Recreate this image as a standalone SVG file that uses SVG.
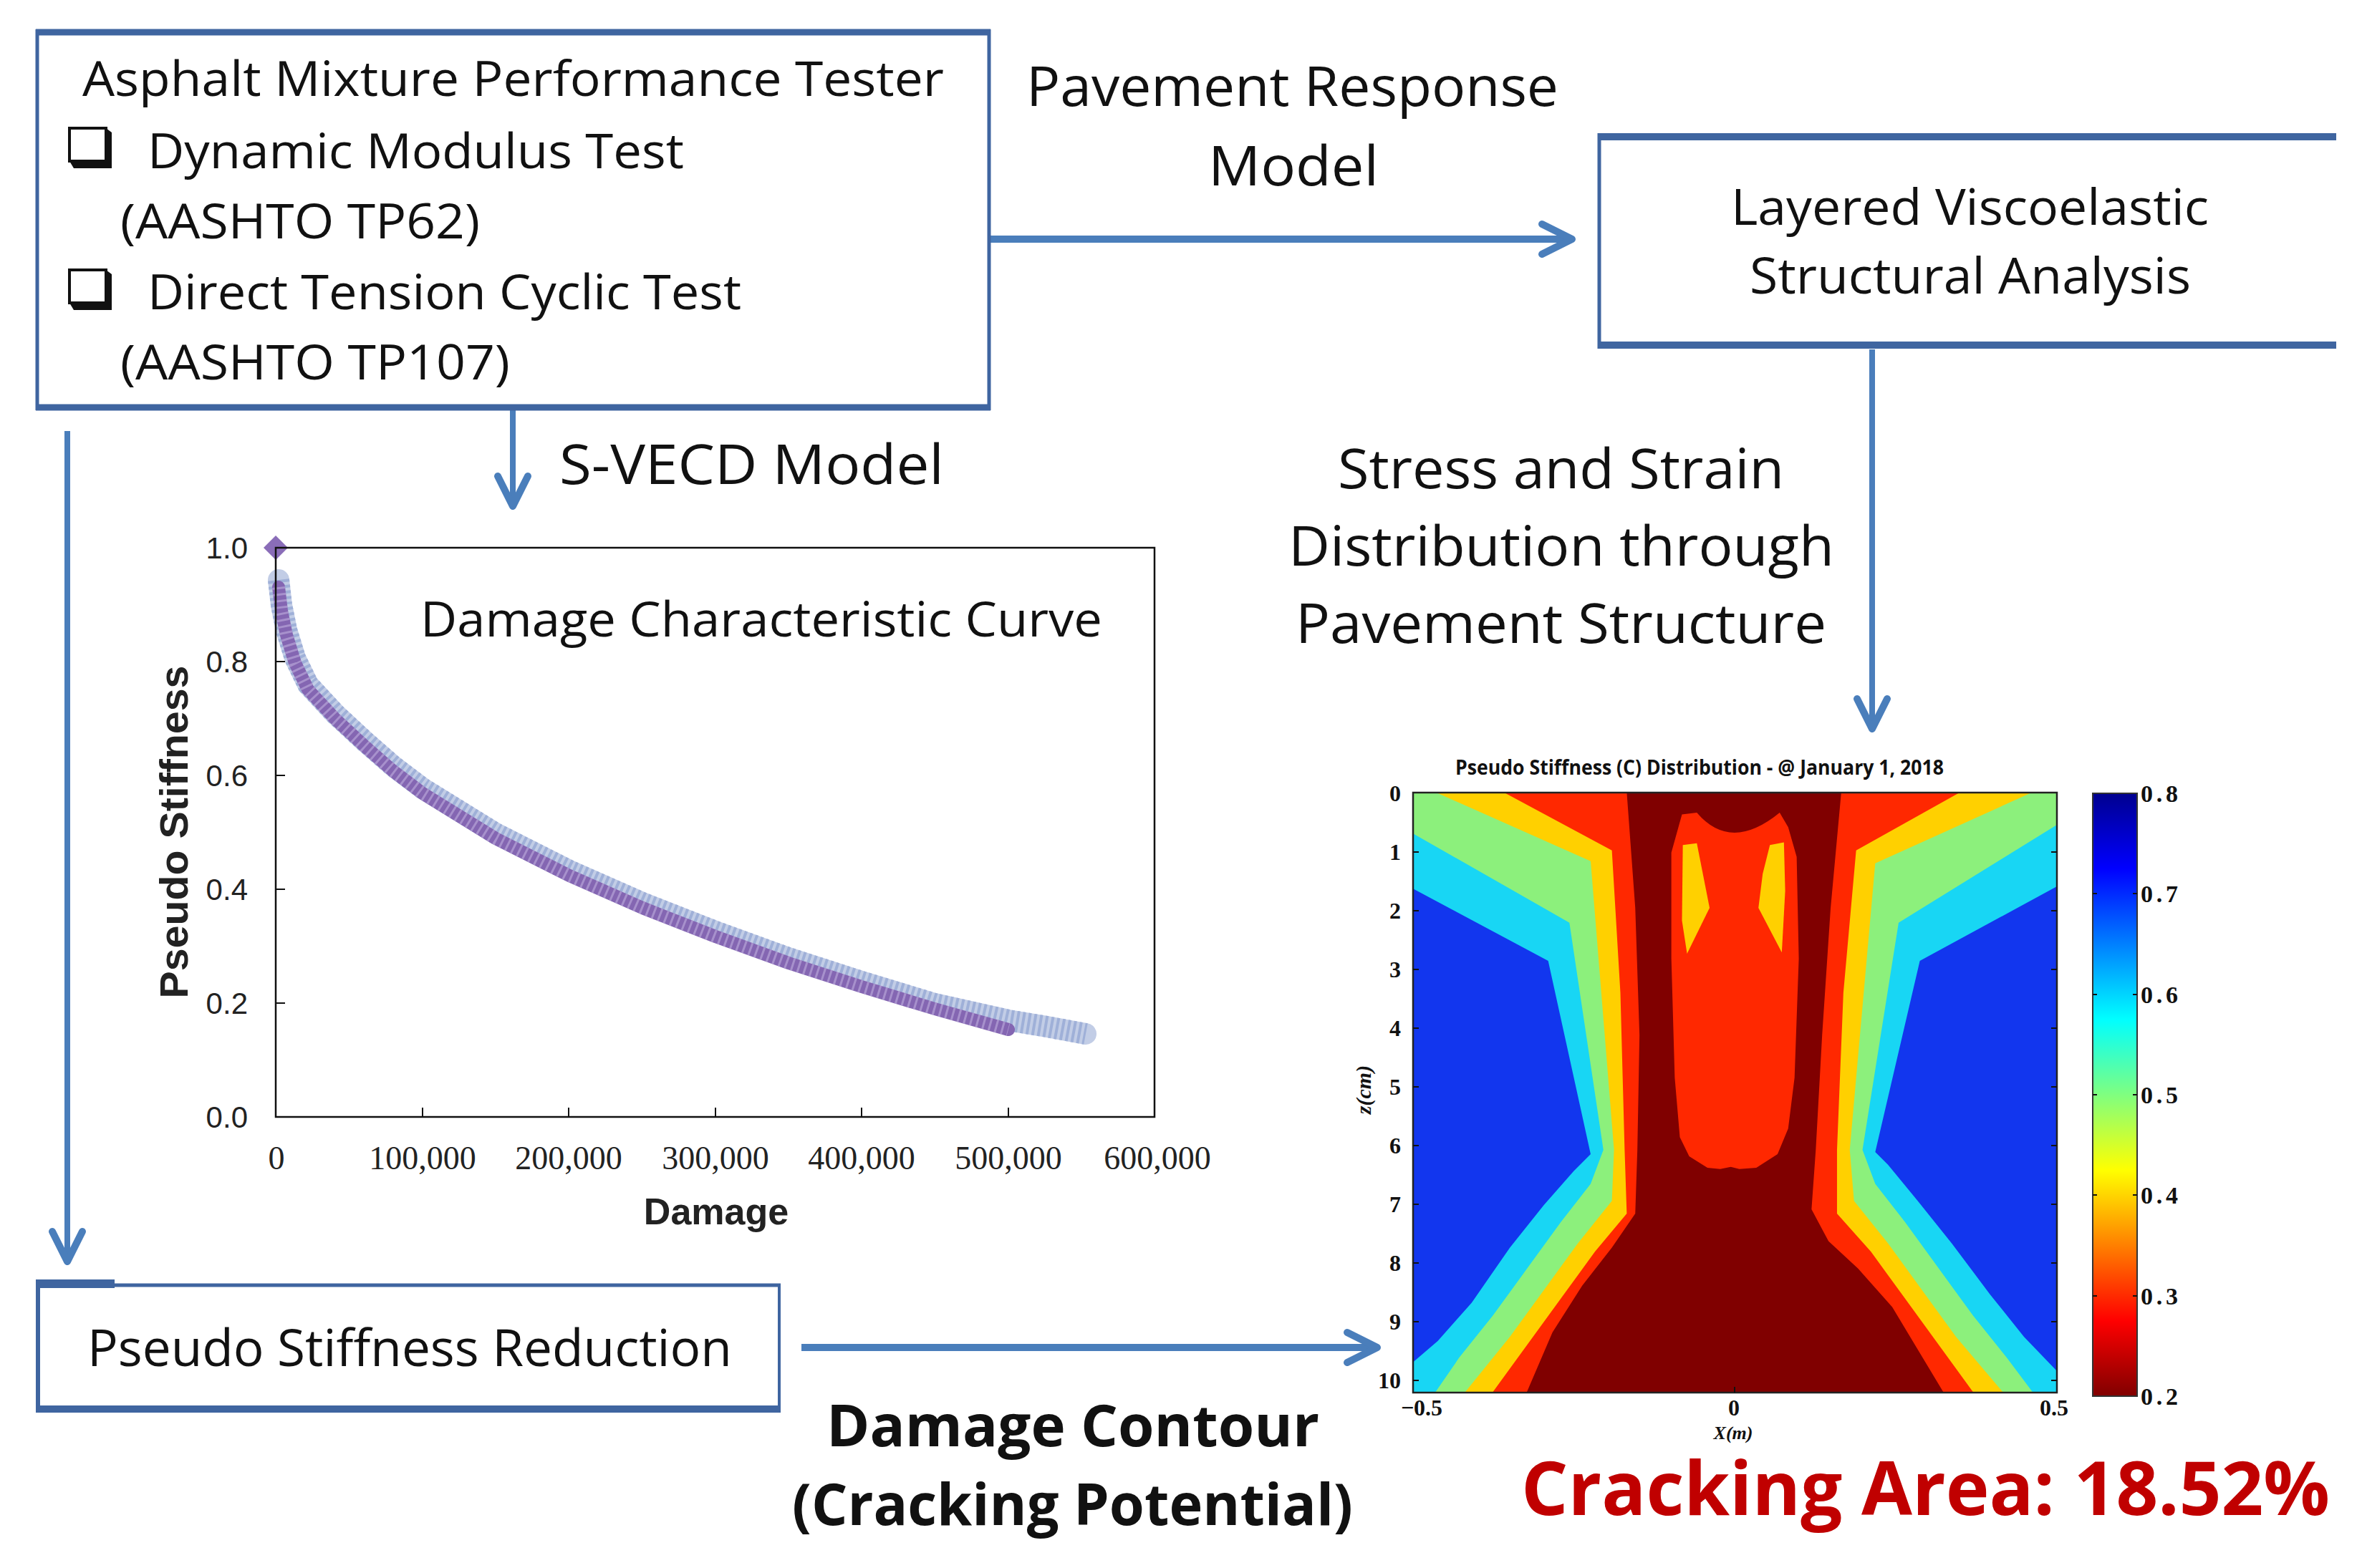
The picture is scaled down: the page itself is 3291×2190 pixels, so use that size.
<svg xmlns="http://www.w3.org/2000/svg" width="3291" height="2190" viewBox="0 0 3291 2190">
<style>
.t{font-family:"Open Sans","Liberation Sans",sans-serif;fill:#111}
.tb{font-family:"Open Sans","Liberation Sans",sans-serif;font-weight:bold;fill:#111}
.bx{stroke:#3F65A0;fill:none}
.cn{stroke:#4A7EBB;fill:none}
.ax{font-family:"Liberation Sans",Arial,sans-serif;fill:#222}
.axs{font-family:"Liberation Serif","Times New Roman",serif;fill:#222}
.cb{font-family:"Liberation Serif","Times New Roman",serif;font-weight:bold;fill:#111}
.tk{stroke:#111;stroke-width:2}
</style>
<defs>
<marker id="chev" markerUnits="userSpaceOnUse" viewBox="-50 -28 60 56" refX="-4" refY="0" markerWidth="60" markerHeight="56" orient="auto" overflow="visible">
<path d="M-42,-21 L0,0 L-42,21" fill="none" stroke="#4A7EBB" stroke-width="10" stroke-linecap="round" stroke-linejoin="round"/>
</marker>
<linearGradient id="jet" x1="0" y1="0" x2="0" y2="1">
<stop offset="0" stop-color="#00008F"/>
<stop offset="0.125" stop-color="#0000FF"/>
<stop offset="0.375" stop-color="#00FFFF"/>
<stop offset="0.625" stop-color="#FFFF00"/>
<stop offset="0.875" stop-color="#FF0000"/>
<stop offset="1" stop-color="#800000"/>
</linearGradient>
</defs>
<rect width="3291" height="2190" fill="#fff"/>

<g id="connectors">
<path class="cn" stroke-width="10" d="M1383,334 H2191" marker-end="url(#chev)"/>
<path class="cn" stroke-width="8" d="M716,573 V703" marker-end="url(#chev)"/>
<path class="cn" stroke-width="8" d="M2614,488 V1014" marker-end="url(#chev)"/>
<path class="cn" stroke-width="8" d="M94,602 V1758" marker-end="url(#chev)"/>
<path class="cn" stroke-width="10" d="M1119,1882 H1919" marker-end="url(#chev)"/>
</g>

<g id="amp-tester">
<line class="bx" x1="52" y1="41" x2="52" y2="573" stroke-width="5"/>
<line class="bx" x1="1381" y1="41" x2="1381" y2="573" stroke-width="5"/>
<line class="bx" x1="50" y1="45" x2="1383" y2="45" stroke-width="9"/>
<line class="bx" x1="50" y1="569" x2="1383" y2="569" stroke-width="9"/>
<text class="t" x="115" y="134" font-size="68" textLength="1203" lengthAdjust="spacingAndGlyphs">Asphalt Mixture Performance Tester</text>
<rect x="97" y="179" width="51" height="46" fill="#fff" stroke="#111" stroke-width="4"/>
<polygon points="97,225 148,225 148,179 156,185 156,235 103,235" fill="#111"/>
<text class="t" x="206" y="235" font-size="68" textLength="749" lengthAdjust="spacingAndGlyphs">Dynamic Modulus Test</text>
<text class="t" x="168" y="333" font-size="68" textLength="502" lengthAdjust="spacingAndGlyphs">(AASHTO TP62)</text>
<rect x="97" y="377" width="51" height="46" fill="#fff" stroke="#111" stroke-width="4"/>
<polygon points="97,423 148,423 148,377 156,383 156,433 103,433" fill="#111"/>
<text class="t" x="206" y="432" font-size="68" textLength="829" lengthAdjust="spacingAndGlyphs">Direct Tension Cyclic Test</text>
<text class="t" x="168" y="530" font-size="68" textLength="544" lengthAdjust="spacingAndGlyphs">(AASHTO TP107)</text>
</g>

<g id="label-pavement-response">
<text class="t" x="1433" y="148" font-size="76" textLength="743" lengthAdjust="spacingAndGlyphs">Pavement Response</text>
<text class="t" x="1687" y="259" font-size="76" textLength="238" lengthAdjust="spacingAndGlyphs">Model</text>
</g>

<g id="layered-analysis">
<line class="bx" x1="2233" y1="186" x2="2233" y2="487" stroke-width="5"/>
<line class="bx" x1="2231" y1="191" x2="3262" y2="191" stroke-width="10"/>
<line class="bx" x1="2231" y1="482" x2="3262" y2="482" stroke-width="10"/>
<text class="t" x="2417" y="314" font-size="70" textLength="667" lengthAdjust="spacingAndGlyphs">Layered Viscoelastic</text>
<text class="t" x="2443" y="410" font-size="70" textLength="616" lengthAdjust="spacingAndGlyphs">Structural Analysis</text>
</g>

<g id="label-svecd">
<text class="t" x="781" y="676" font-size="76" textLength="537" lengthAdjust="spacingAndGlyphs">S-VECD Model</text>
</g>

<g id="label-stress-strain">
<text class="t" x="1868" y="682" font-size="76" textLength="623" lengthAdjust="spacingAndGlyphs">Stress and Strain</text>
<text class="t" x="1799" y="790" font-size="76" textLength="762" lengthAdjust="spacingAndGlyphs">Distribution through</text>
<text class="t" x="1809" y="898" font-size="76" textLength="741" lengthAdjust="spacingAndGlyphs">Pavement Structure</text>
</g>

<g id="damage-curve-chart">
<path d="M389,810 L393,845 L400,880 L412,919 L430,956 L468,997 L509,1035 L549,1070 L590,1101 L692,1164 L795,1216 L897,1261 L999,1301 L1101,1338 L1203,1371 L1305,1402 L1408,1425 L1462,1434 L1516,1444" fill="none" stroke="#C2CDE6" stroke-width="30" stroke-linecap="round" stroke-linejoin="round"/>
<path d="M389,810 L393,845 L400,880 L412,919 L430,956 L468,997 L509,1035 L549,1070 L590,1101 L692,1164 L795,1216 L897,1261 L999,1301 L1101,1338 L1203,1371 L1305,1402 L1408,1425 L1462,1434 L1516,1444" fill="none" stroke="#9FB0D8" stroke-width="30" stroke-dasharray="4 4"/>
<path d="M389,820 L393,853 L400,887 L412,926 L430,963 L468,1004 L509,1042 L549,1077 L590,1108 L692,1171 L795,1223 L897,1268 L999,1308 L1101,1345 L1203,1378 L1305,1409 L1408,1438" fill="none" stroke="#8466B2" stroke-width="18" stroke-linecap="round" stroke-linejoin="round"/>
<path d="M389,820 L393,853 L400,887 L412,926 L430,963 L468,1004 L509,1042 L549,1077 L590,1108 L692,1171 L795,1223 L897,1268 L999,1308 L1101,1345 L1203,1378 L1305,1409 L1408,1438" fill="none" stroke="#C4B4E2" stroke-width="18" stroke-dasharray="3 6" opacity="0.55"/>
<polygon points="385,748 402,765 385,782 368,765" fill="#8A6DB8"/>
<rect x="385" y="765" width="1227" height="795" fill="none" stroke="#111" stroke-width="2.5"/>
<path class="tk" d="M385,924 h13 M385,1083 h13 M385,1242 h13 M385,1401 h13 M590,1560 v-13 M794,1560 v-13 M999,1560 v-13 M1203,1560 v-13 M1408,1560 v-13"/>
<g class="ax" font-size="42" text-anchor="end">
<text x="346" y="780">1.0</text>
<text x="346" y="939">0.8</text>
<text x="346" y="1098">0.6</text>
<text x="346" y="1257">0.4</text>
<text x="346" y="1416">0.2</text>
<text x="346" y="1575">0.0</text>
</g>
<g class="axs" font-size="46" text-anchor="middle">
<text x="386" y="1633">0</text>
<text x="590" y="1633">100,000</text>
<text x="794" y="1633">200,000</text>
<text x="999" y="1633">300,000</text>
<text x="1203" y="1633">400,000</text>
<text x="1408" y="1633">500,000</text>
<text x="1616" y="1633">600,000</text>
</g>
<text class="ax" x="1000" y="1710" font-size="52" font-weight="bold" text-anchor="middle" fill="#111">Damage</text>
<text class="ax" transform="translate(262,1162) rotate(-90)" font-size="55" font-weight="bold" text-anchor="middle" fill="#111" textLength="465" lengthAdjust="spacingAndGlyphs">Pseudo Stiffness</text>
<text class="t" x="587" y="889" font-size="68" textLength="952" lengthAdjust="spacingAndGlyphs">Damage Characteristic Curve</text>
</g>

<g id="stiffness-reduction">
<line class="bx" x1="53" y1="1787" x2="53" y2="1973" stroke-width="6"/>
<line class="bx" x1="50" y1="1795" x2="1090" y2="1795" stroke-width="5"/>
<rect x="50" y="1787" width="110" height="12" fill="#3F65A0"/>
<line class="bx" x1="1088" y1="1793" x2="1088" y2="1973" stroke-width="4"/>
<line class="bx" x1="50" y1="1968" x2="1090" y2="1968" stroke-width="10"/>
<text class="t" x="122" y="1908" font-size="72" textLength="900" lengthAdjust="spacingAndGlyphs">Pseudo Stiffness Reduction</text>
</g>

<g id="label-damage-contour">
<text class="tb" x="1154" y="2020" font-size="80" textLength="688" lengthAdjust="spacingAndGlyphs">Damage Contour</text>
<text class="tb" x="1106" y="2130" font-size="80" textLength="783" lengthAdjust="spacingAndGlyphs">(Cracking Potential)</text>
</g>

<g id="contour-plot">
<text class="tb" x="2032" y="1082" font-size="28" textLength="682" lengthAdjust="spacingAndGlyphs">Pseudo Stiffness (C) Distribution - @ January 1, 2018</text>
<g transform="translate(1960,1090) scale(0.5931)">
<rect x="22" y="28" width="1515" height="1412" fill="#1236EE"/>
<polygon fill="#18D6F4" points="22,28 22,255 340,425 440,880 400,920 330,1000 250,1100 160,1230 80,1320 22,1370 22,1440 1537,1440 1537,1390 1460,1310 1380,1210 1290,1090 1210,990 1140,905 1110,875 1215,425 1537,250 1537,28"/>
<polygon fill="#8CF07C" points="22,28 22,125 390,335 470,870 440,950 370,1040 290,1150 210,1260 130,1360 75,1440 1480,1440 1420,1360 1340,1260 1260,1150 1180,1040 1110,950 1080,870 1165,335 1537,105 1537,28"/>
<polygon fill="#FFD000" points="75,28 440,190 495,870 490,990 410,1090 330,1200 250,1310 145,1440 1410,1440 1300,1310 1220,1200 1140,1090 1060,990 1050,870 1110,195 1480,28"/>
<polygon fill="#FF2800" points="235,28 490,165 510,500 520,870 525,1020 450,1110 370,1220 290,1330 210,1440 1340,1440 1260,1330 1180,1220 1100,1110 1020,1020 1020,870 1035,500 1065,165 1310,28"/>
<polygon fill="#800000" points="525,28 545,300 555,600 550,870 545,1020 490,1100 420,1190 350,1300 290,1440 1270,1440 1210,1340 1150,1240 1070,1150 1000,1085 960,1010 970,870 985,600 1005,300 1030,28"/>
<path fill="#FF2800" d="M655,80 L690,76 Q770,170 885,76 L905,110 L925,180 L930,420 L920,700 L905,820 L880,880 L830,912 L790,915 L770,910 L745,915 L715,912 L672,885 L650,840 L638,700 L630,420 L630,170 Z"/>
<polygon fill="#FFD000" points="657,152 690,148 720,300 667,408 655,330"/>
<polygon fill="#FFD000" points="862,152 895,146 898,260 890,405 835,300 845,220"/>
</g>
<rect x="1973" y="1107" width="899" height="838" fill="none" stroke="#222" stroke-width="2.5"/>
<path class="tk" d="M1973,1190 h8 M1973,1272 h8 M1973,1354 h8 M1973,1436 h8 M1973,1518 h8 M1973,1600 h8 M1973,1682 h8 M1973,1764 h8 M1973,1846 h8 M1973,1928 h8 M2872,1190 h-8 M2872,1272 h-8 M2872,1354 h-8 M2872,1436 h-8 M2872,1518 h-8 M2872,1600 h-8 M2872,1682 h-8 M2872,1764 h-8 M2872,1846 h-8 M2872,1928 h-8 M2422,1945 v-8"/>
<g class="cb" font-size="32" text-anchor="end">
<text x="1956" y="1119">0</text>
<text x="1956" y="1201">1</text>
<text x="1956" y="1283">2</text>
<text x="1956" y="1365">3</text>
<text x="1956" y="1447">4</text>
<text x="1956" y="1529">5</text>
<text x="1956" y="1611">6</text>
<text x="1956" y="1693">7</text>
<text x="1956" y="1775">8</text>
<text x="1956" y="1857">9</text>
<text x="1956" y="1939">10</text>
</g>
<g class="cb" font-size="32" text-anchor="middle">
<text x="1985" y="1977">−0.5</text>
<text x="2421" y="1977">0</text>
<text x="2868" y="1977">0.5</text>
</g>
<text class="cb" x="2420" y="2010" font-size="26" font-style="italic" text-anchor="middle">X(m)</text>
<text class="cb" transform="translate(1914,1522) rotate(-90)" font-size="30" font-style="italic" text-anchor="middle">z(cm)</text>
<rect x="2922" y="1108" width="62" height="842" fill="url(#jet)" stroke="#333" stroke-width="2"/>
<path class="tk" d="M2922,1248 h6 M2984,1248 h-6 M2922,1389 h6 M2984,1389 h-6 M2922,1529 h6 M2984,1529 h-6 M2922,1669 h6 M2984,1669 h-6 M2922,1810 h6 M2984,1810 h-6"/>
<g class="cb" font-size="34">
<text x="2989" y="1120" textLength="52" lengthAdjust="spacing">0.8</text>
<text x="2989" y="1260" textLength="52" lengthAdjust="spacing">0.7</text>
<text x="2989" y="1401" textLength="52" lengthAdjust="spacing">0.6</text>
<text x="2989" y="1541" textLength="52" lengthAdjust="spacing">0.5</text>
<text x="2989" y="1681" textLength="52" lengthAdjust="spacing">0.4</text>
<text x="2989" y="1822" textLength="52" lengthAdjust="spacing">0.3</text>
<text x="2989" y="1962" textLength="52" lengthAdjust="spacing">0.2</text>
</g>
</g>

<g id="label-cracking-area">
<text class="tb" x="2124" y="2116" font-size="104" fill="#C00000" style="fill:#C00000" textLength="1129" lengthAdjust="spacingAndGlyphs">Cracking Area: 18.52%</text>
</g>
</svg>
